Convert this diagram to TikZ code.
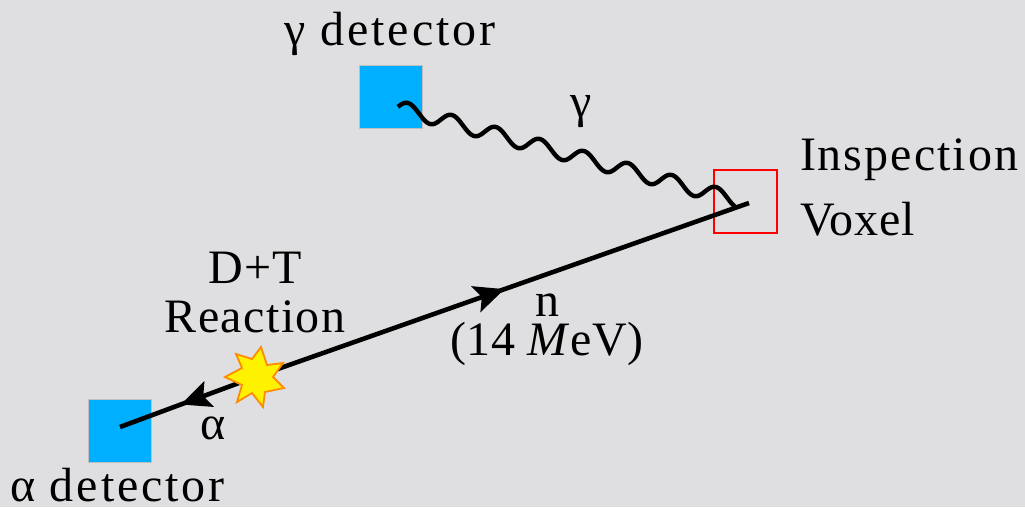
\documentclass[tikz,border=0pt]{standalone}
\usepackage{fontspec}
\setmainfont[LetterSpace=3]{Liberation Serif}
\usetikzlibrary{arrows.meta,decorations.markings}
\definecolor{bgc}{HTML}{DFDFE1}
\definecolor{det}{HTML}{00B0FF}
\newcommand{\lsp}[1]{\addfontfeatures{LetterSpace=#1}}
\tikzset{
 x=1pt,y=-1pt,
 detector/.style={fill=det,draw=black!25,line width=0.7pt,minimum size=63pt,inner sep=0,outer sep=0,anchor=center},
 voxel/.style={draw=red,line width=2.4pt,minimum size=63pt,inner sep=0,outer sep=0,anchor=center},
 lab/.style={font=\fontsize{48}{52}\selectfont,inner sep=0,outer sep=0,anchor=base},
 labl/.style={lab,anchor=base west},
 track/.style={line width=4.6pt,black},
 wave/.style={line width=4.4pt,black,line cap=butt,line join=round},
 midtip/.style={postaction={decorate,decoration={markings,mark=at position #1 with {\arrow{Stealth[length=30pt,width=27pt,inset=6pt]}}}}},
}
\begin{document}
\begin{tikzpicture}
\useasboundingbox[fill=bgc] (0,0) rectangle (1025,507);
\node[detector] (gdet) at (391,97) {};
\node[detector] (adet) at (119.5,430.5) {};
\node[voxel] (vox) at (745.5,201.5) {};
\coordinate (vend) at (749,203);
\coordinate (astart) at (120,427);
\coordinate (react) at (255,377);
\coordinate (worigin) at (408,110.5);
\draw[track,midtip=0.505] (react) -- (vend);
\draw[track,midtip=0.55] (react) -- (astart);
\draw[wave,shift={(worigin)}] plot[domain=-0.23:7.43,samples=200,smooth] ({44*\x},{12*\x-7.5*cos(360*\x)});
\draw[fill=yellow,draw=orange!90!yellow,line width=1.8pt,line join=miter] (261,347)--(267,365)--(283,363)--(273,377)--(284,388)--(265,392)--(263,407)--(252,393)--(237,402)--(242,385)--(225,377)--(242,368)--(236,354)--(252,359)--cycle;
\node[lab] (tg) at (390,45) {\lsp{6}γ detector};
\node[lab] (tgam) at (581,117) {γ};
\node[labl] (tins) at (800,170) {\lsp{4.2}Inspection};
\node[labl] (tvox) at (800,235) {\lsp{1.8}Voxel};
\node[lab] (tdt) at (255,283) {D+T};
\node[lab] (trea) at (255,332) {Reaction};
\node[lab] (tn) at (547,316) {n};
\node[lab] (tmev) at (547,355) {\lsp{1}(14 \textit{M}eV)};
\node[lab] (talp) at (213,439) {α};
\node[labl] (tad) at (10,501) {\lsp{6}α detector};
\end{tikzpicture}
\end{document}
